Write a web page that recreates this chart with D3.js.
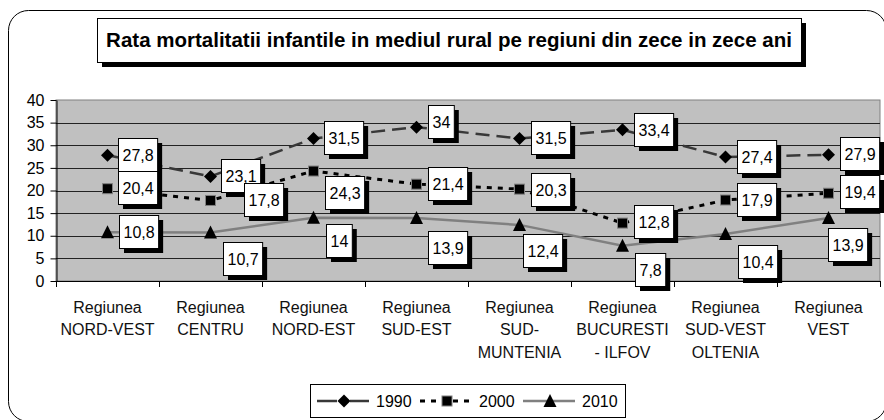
<!DOCTYPE html>
<html>
<head>
<meta charset="utf-8">
<script src="https://cdn.jsdelivr.net/npm/d3@7"></script>
<style>
  body { margin: 0; background: #fff; }
  svg { display: block; font-family: "Liberation Sans", Arial, sans-serif; }
</style>
</head>
<body>
<svg id="chart" width="884" height="420"></svg>
<script>
// data
const title = 'Rata mortalitatii infantile in mediul rural pe regiuni din zece in zece ani'
const categories = [
  'Regiunea\nNORD-VEST', 'Regiunea\nCENTRU', 'Regiunea\nNORD-EST', 'Regiunea\nSUD-EST',
  'Regiunea\nSUD-\nMUNTENIA', 'Regiunea\nBUCURESTI\n- ILFOV', 'Regiunea\nSUD-VEST\nOLTENIA', 'Regiunea\nVEST'
]
const seriesNames = ['1990', '2000', '2010']
const values1990 = [27.8, 23.1, 31.5, 34, 31.5, 33.4, 27.4, 27.9]
const values2000 = [20.4, 17.8, 24.3, 21.4, 20.3, 12.8, 17.9, 19.4]
const values2010 = [10.8, 10.7, 14, 13.9, 12.4, 7.8, 10.4, 13.9]
const yTicks = [0, 5, 10, 15, 20, 25, 30, 35, 40]

// label placement: [left edge from category centre, box centre from point]
const labelShift = [
  [[10.5, -1], [10.5, -1], [10.5, -1], [11.5, -6], [11.5, -1], [11.5, 0], [11.5, -1], [11.5, -1]],
  [[10.5, -1], [33, -1], [11.5, 21], [11.5, -1], [11.5, 0.5], [11.5, -2], [11.5, -0.5], [11.5, -1.5]],
  [[11.5, -1], [12.5, 26], [12.5, 23], [11.5, 29], [3.5, 26], [12.5, 24], [12.5, 28], [-0.5, 26]]
]

const series = [
  { name: seriesNames[0], values: values1990, color: '#383838', dash: '14,7', legendDash: '20,13', width: 2.5, marker: 'diamond' },
  { name: seriesNames[1], values: values2000, color: '#000', dash: '5,6', legendDash: '5,6', width: 3, marker: 'square' },
  { name: seriesNames[2], values: values2010, color: '#808080', dash: null, legendDash: null, width: 2.5, marker: 'triangle' }
]

const svg = d3.select('#chart')
const plot = { left: 56, right: 880, top: 100, bottom: 281 }

const x = d3.scaleBand()
  .domain(categories)
  .range([plot.left, plot.right])
  .paddingInner(0)
  .paddingOuter(0)
const cx = function(i) { return x(categories[i]) + x.bandwidth() / 2 }

const y = d3.scaleLinear()
  .domain([0, 40])
  .range([plot.bottom, plot.top])

// outer frame
svg.append('rect')
  .attr('x', 8.5).attr('y', 10.5)
  .attr('width', 878).attr('height', 411)
  .attr('rx', 20)
  .attr('fill', '#fff').attr('stroke', '#000')

// title box
svg.append('rect')
  .attr('x', 102).attr('y', 23).attr('width', 704).attr('height', 44)
  .attr('fill', '#000')
svg.append('rect')
  .attr('x', 97.5).attr('y', 18.5).attr('width', 704).attr('height', 44)
  .attr('fill', '#fff').attr('stroke', '#000')
svg.append('text')
  .attr('x', 449).attr('y', 47)
  .attr('text-anchor', 'middle')
  .attr('font-size', '20.5px').attr('font-weight', 'bold')
  .text(title)

// plot area
svg.append('rect')
  .attr('x', plot.left).attr('y', plot.top)
  .attr('width', plot.right - plot.left).attr('height', plot.bottom - plot.top)
  .attr('fill', '#c0c0c0').attr('stroke', '#808080')

svg.append('g')
  .selectAll('line')
  .data(yTicks.filter(function(d) { return d > 0 && d < 40 }))
  .enter()
  .append('line')
  .attr('x1', plot.left).attr('x2', plot.right)
  .attr('y1', function(d) { return Math.round(y(d)) + 0.5 })
  .attr('y2', function(d) { return Math.round(y(d)) + 0.5 })
  .attr('stroke', '#222')

// y axis
const yAxis = svg.append('g')
  .attr('transform', 'translate(' + (plot.left + 0.5) + ',0)')
  .call(d3.axisLeft(y).tickValues(yTicks).tickSize(6).tickSizeOuter(0).tickPadding(6))
yAxis.select('.domain').attr('stroke', '#000')
yAxis.selectAll('.tick line').attr('stroke', '#000')
yAxis.selectAll('.tick text')
  .attr('font-size', '16px').attr('font-family', '"Liberation Sans", Arial, sans-serif')
  .attr('fill', '#000')

// x axis
svg.append('line')
  .attr('x1', plot.left).attr('x2', plot.right)
  .attr('y1', plot.bottom + 0.5).attr('y2', plot.bottom + 0.5)
  .attr('stroke', '#000')
const bounds = categories.map(function(c) { return x(c) }).concat([plot.right])
svg.append('g')
  .selectAll('line')
  .data(bounds)
  .enter()
  .append('line')
  .attr('x1', function(d) { return Math.round(d) + 0.5 })
  .attr('x2', function(d) { return Math.round(d) + 0.5 })
  .attr('y1', plot.bottom).attr('y2', plot.bottom + 6)
  .attr('stroke', '#000')

const catLabels = svg.append('g')
  .selectAll('text')
  .data(categories)
  .enter()
  .append('text')
  .attr('text-anchor', 'middle')
  .attr('font-size', '16px')
  .attr('fill', '#111')
catLabels.each(function(d, i) {
  const t = d3.select(this)
  d.split('\n').forEach(function(line, k) {
    t.append('tspan')
      .attr('x', cx(i))
      .attr('y', 313 + k * 22.3)
      .text(line)
  })
})

// markers
function marker(sel, type, px, py) {
  if (type === 'diamond') {
    sel.append('path')
      .attr('d', 'M' + px + ',' + (py - 6.5) + 'L' + (px + 6.5) + ',' + py + 'L' + px + ',' + (py + 6.5) + 'L' + (px - 6.5) + ',' + py + 'Z')
      .attr('fill', '#000')
  } else if (type === 'square') {
    sel.append('rect')
      .attr('x', px - 5).attr('y', py - 5).attr('width', 10).attr('height', 10)
      .attr('fill', '#000').attr('stroke', '#808080').attr('stroke-width', 1)
  } else {
    sel.append('path')
      .attr('d', 'M' + px + ',' + (py - 7) + 'L' + (px + 6.5) + ',' + (py + 6) + 'L' + (px - 6.5) + ',' + (py + 6) + 'Z')
      .attr('fill', '#000')
  }
}

const line = d3.line()
  .x(function(d, i) { return cx(i) })
  .y(function(d) { return y(d) })

series.forEach(function(s) {
  svg.append('path')
    .datum(s.values)
    .attr('d', line)
    .attr('fill', 'none')
    .attr('stroke', s.color)
    .attr('stroke-width', s.width)
    .attr('stroke-dasharray', s.dash)
})

series.forEach(function(s) {
  const g = svg.append('g')
  s.values.forEach(function(v, i) { marker(g, s.marker, cx(i), y(v)) })
})

// data labels
series.forEach(function(s, si) {
  s.values.forEach(function(v, i) {
    const g = svg.append('g')
    const txt = String(v).replace('.', ',')
    const t = g.append('text')
      .attr('font-size', '16px')
      .attr('fill', '#000')
      .text(txt)
    const w = t.node().getComputedTextLength() + 8
    const h = 33
    const left = Math.round(cx(i) + labelShift[si][i][0])
    const top = Math.round(y(v) + labelShift[si][i][1] - h / 2)
    g.insert('rect', 'text')
      .attr('x', left + 5).attr('y', top + 5).attr('width', w).attr('height', h)
      .attr('fill', '#000')
    g.insert('rect', 'text')
      .attr('x', left + 0.5).attr('y', top + 0.5).attr('width', w).attr('height', h)
      .attr('fill', '#fff').attr('stroke', '#000')
    t.attr('x', left + 4.5).attr('y', top + h / 2 + 6)
  })
})

// legend
svg.append('rect')
  .attr('x', 310.5).attr('y', 384.5).attr('width', 315).attr('height', 33)
  .attr('fill', '#fff').attr('stroke', '#000')
series.forEach(function(s, i) {
  const x0 = 317 + i * 103
  const ly = 401
  svg.append('line')
    .attr('x1', x0).attr('x2', x0 + 52)
    .attr('y1', ly).attr('y2', ly)
    .attr('stroke', s.color).attr('stroke-width', s.width)
    .attr('stroke-dasharray', s.legendDash)
  marker(svg, s.marker, x0 + 27, ly)
  svg.append('text')
    .attr('x', x0 + 59).attr('y', ly + 6)
    .attr('font-size', '16px')
    .attr('fill', '#000')
    .text(s.name)
})
</script>
</body>
</html>
